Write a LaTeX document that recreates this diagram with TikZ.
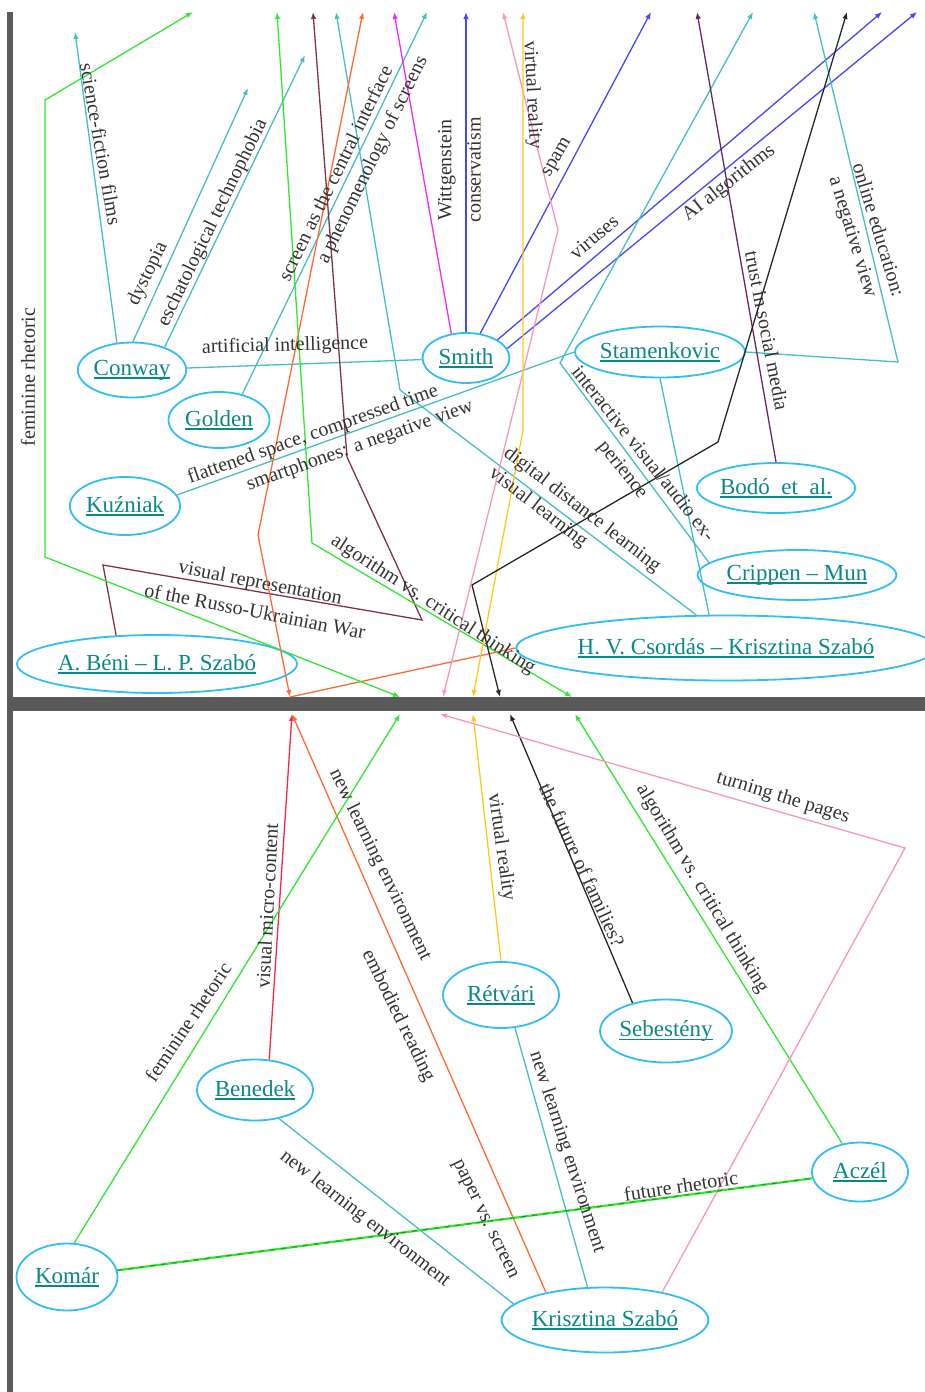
\documentclass[tikz,border=0pt]{standalone}
\usepackage{fontspec}
\setmainfont{Liberation Serif}
\usetikzlibrary{arrows.meta, shapes.geometric}
\definecolor{RingBlue}{RGB}{50,190,240}
\definecolor{NameTeal}{RGB}{10,135,135}
\definecolor{LinkCyan}{RGB}{70,190,195}
\definecolor{LinkGreen}{RGB}{50,230,50}
\definecolor{DarkGreen}{RGB}{20,150,20}
\definecolor{LinkMaroon}{RGB}{125,50,80}
\definecolor{LinkOrange}{RGB}{255,105,50}
\definecolor{LinkMagenta}{RGB}{245,40,245}
\definecolor{LinkBlue}{RGB}{70,70,250}
\definecolor{LinkPink}{RGB}{250,150,190}
\definecolor{LinkYellow}{RGB}{255,200,30}
\definecolor{LinkPurple}{RGB}{100,40,100}
\definecolor{LinkRed}{RGB}{250,40,70}
\definecolor{BarGray}{RGB}{90,90,90}
\newsavebox{\namebox}
\newcommand{\nameul}[1]{\sbox{\namebox}{#1}\rlap{\rule[-3.5pt]{\wd\namebox}{1.5pt}}\usebox{\namebox}}

\begin{document}
\begin{tikzpicture}[x=1pt, y=-1pt, >={Latex[length=7pt,width=5.5pt]},
    person/.style={ellipse, draw=RingBlue, line width=1.8pt, text=NameTeal, font=\fontsize{23}{26}\selectfont, inner sep=0pt},
    lab/.style={font=\fontsize{20}{22}\selectfont, text=black!80, inner sep=0pt},
    link/.style={line width=1.3pt}]
\useasboundingbox (0,0) rectangle (925,1392);
% Page frame
\fill [BarGray] (7,12) rectangle (13,1392);
\fill [BarGray] (7,697) rectangle (925,711);

% Upper page: people
\node [person, minimum width=101pt, minimum height=55pt] (Conway) at (132,370) {\nameul{Conway}};
\node [person, minimum width=101pt, minimum height=56pt] (Golden) at (219,420) {\nameul{Golden}};
\node [person, minimum width=101pt, minimum height=58pt] (Kuzniak) at (125,506) {\nameul{Kuźniak}};
\node [person, minimum width=241pt, minimum height=58pt] (Beni) at (157,664) {\nameul{A. Béni – L. P. Szabó}};
\node [person, minimum width=87pt, minimum height=50pt] (Smith) at (466,358) {\nameul{Smith}};
\node [person, minimum width=160pt, minimum height=51pt] (Stamenkovic) at (660,352) {\nameul{Stamenkovic}};
\node [person, minimum width=132pt, minimum height=50pt] (Bodo) at (776,488) {\nameul{Bodó~~et~~al.}};
\node [person, minimum width=161pt, minimum height=50pt] (Crippen) at (797,575) {\nameul{Crippen – Mun}};
\node [person, minimum width=378pt, minimum height=65pt] (Csordas) at (726,648) {\nameul{H. V. Csordás – Krisztina Szabó}};

% Upper page: loose ends
\coordinate (tSciFi) at (75,32);
\coordinate (tDystopia) at (248,88);
\coordinate (tTechno) at (305,55);
\coordinate (tFemTop) at (193,12);
\coordinate (tAlgTop) at (277,12);
\coordinate (tWar) at (313,12);
\coordinate (tDistance) at (336,12);
\coordinate (tOrange) at (363,12);
\coordinate (tWitt) at (394,12);
\coordinate (tScreen) at (427,12);
\coordinate (tCons) at (466,12);
\coordinate (tPages) at (503,12);
\coordinate (tVR) at (523,12);
\coordinate (tSpam) at (651,12);
\coordinate (tTrust) at (697,12);
\coordinate (tVisual) at (753,12);
\coordinate (tOnline) at (814,12);
\coordinate (tFamilies) at (847,12);
\coordinate (tViruses) at (882,12);
\coordinate (tAI) at (917,12);
\coordinate (bOrange) at (290,697);
\coordinate (bFem) at (400,697);
\coordinate (bPages) at (443,697);
\coordinate (bVR) at (473,697);
\coordinate (bFamilies) at (500,697);
\coordinate (bAlg) at (572,697);

% Upper page: links
\draw [link, LinkCyan, ->] (Conway.119) -- (tSciFi);
\draw [link, LinkCyan, ->] (Conway.88) -- (tDystopia);
\draw [link, LinkCyan, ->] (Conway.35) -- (tTechno);
\draw [link, LinkCyan] (Conway) -- (Smith);
\draw [link, LinkCyan, ->] (Golden.48) -- (tScreen);
\draw [link, LinkCyan] (Kuzniak.12) -- (Stamenkovic.west);
\draw [link, LinkMaroon, ->] (Beni.145) -- (103,565) -- (422,620) -- (347,457) -- (tWar);
\draw [link, LinkMagenta, ->] (Smith.121) -- (tWitt);
\draw [link, LinkBlue, ->] (Smith.north) -- (tCons);
\draw [link, LinkBlue, ->] (Smith.60) -- (tSpam);
\draw [link, LinkBlue, ->] (Smith.30) -- (tViruses);
\draw [link, LinkBlue, ->] (Smith.13) -- (tAI);
\draw [link, LinkCyan, ->] (Stamenkovic.east) -- (898,362) -- (tOnline);
\draw [link, LinkCyan] (Stamenkovic.south) -- (Csordas.117);
\draw [link, LinkCyan, ->] (Csordas.132) -- (400,390) -- (tDistance);
\draw [link, LinkCyan, ->] (Crippen.172) -- (560,363) -- (tVisual);
\draw [link, LinkPurple, ->] (Bodo.north) -- (tTrust);
\draw [link, LinkOrange] (Csordas.west) -- (bOrange);
\draw [link, LinkOrange, <->] (tOrange) -- (258,535) -- (bOrange);
\draw [link, LinkGreen, <->] (tFemTop) -- (45,100) -- (45,557) -- (bFem);
\draw [link, LinkGreen, <->] (tAlgTop) -- (312,543) -- (bAlg);
\draw [link, LinkPink, <->] (tPages) -- (558,230) -- (bPages);
\draw [link, LinkYellow, <->] (tVR) -- (523,430) -- (bVR);
\draw [link, black!85, <->] (tFamilies) -- (718,442) -- (472,585) -- (bFamilies);

% Upper page: link phrases
\node [lab, rotate=-80] (lSciFi) at (101,144) {science-fiction films};
\node [lab, rotate=64] (lDystopia) at (148,274) {dystopia};
\node [lab, rotate=64] (lTechno) at (213,223) {eschatological technophobia};
\node [lab, rotate=64] (lScreen) at (335,173) {screen as the central interface};
\node [lab, rotate=64] (lPhenom) at (373,160) {a phenomenology of screens};
\node [lab, rotate=1.5] (lAI) at (285,346) {artificial intelligence};
\node [lab, rotate=90] (lWitt) at (447,170) {Wittgenstein};
\node [lab, rotate=90] (lCons) at (474,170) {conservatism};
\node [lab, rotate=-87] (lVRTop) at (532,95) {virtual reality};
\node [lab, rotate=60] (lSpam) at (558,158) {spam};
\node [lab, rotate=40] (lViruses) at (594,237) {viruses};
\node [lab, rotate=38] (lAlgo) at (729,183) {AI algorithms};
\node [lab, rotate=-79] (lTrust) at (767,331) {trust in social media};
\node [lab, rotate=-73] (lOnline) at (879,230) {online education:};
\node [lab, rotate=-73] (lNegOnline) at (852,237) {a negative view};
\node [lab, rotate=19.5] (lFlat) at (313,435) {flattened space, compressed time};
\node [lab, rotate=19.5] (lPhones) at (360,446) {smartphones: a negative view};
\node [lab, rotate=-11] (lRep) at (260,584) {visual representation};
\node [lab, rotate=-11] (lWar) at (255,611) {of the Russo-Ukrainian War};
\node [lab, rotate=-33] (lAlgTop) at (433,605) {algorithm vs. critical thinking};
\node [lab, rotate=-51.4] (lInter) at (644,453) {interactive visual/audio ex-};
\node [lab, rotate=-51.4] (lPerience) at (622,470) {perience};
\node [lab, rotate=-37.6] (lDistance) at (582,510) {digital distance learning};
\node [lab, rotate=-37.6] (lVisLearn) at (538,508) {visual learning};
\node [lab, rotate=90] (lFemTop) at (28,377) {feminine rhetoric};

% Lower page: people
\node [person, minimum width=116pt, minimum height=61pt] (Benedek) at (255,1090) {\nameul{Benedek}};
\node [person, minimum width=116pt, minimum height=66pt] (Retvari) at (501,995) {\nameul{Rétvári}};
\node [person, minimum width=115pt, minimum height=63pt] (Sebesteny) at (666,1031) {\nameul{Sebestény}};
\node [person, minimum width=96pt, minimum height=59pt] (Aczel) at (860,1172) {\nameul{Aczél}};
\node [person, minimum width=101pt, minimum height=67pt] (Komar) at (67,1277) {\nameul{Komár}};
\node [person, minimum width=203pt, minimum height=65pt] (KSzabo) at (605,1320) {\nameul{Krisztina Szabó}};

% Lower page: loose ends
\coordinate (uMicro) at (292,714);
\coordinate (uFem) at (400,714);
\coordinate (uPages) at (440,714);
\coordinate (uVR) at (473,714);
\coordinate (uFamilies) at (510,714);
\coordinate (uAlg) at (575,714);

% Lower page: links
\draw [link, LinkRed, ->] (Benedek.65) -- (uMicro);
\draw [link, LinkOrange, ->] (KSzabo.155) -- (uMicro);
\draw [link, LinkGreen, ->] (Komar.78) -- (uFem);
\draw [link, LinkYellow, ->] (Retvari.north) -- (uVR);
\draw [link, black!85, ->] (Sebesteny.140) -- (uFamilies);
\draw [link, LinkGreen, ->] (Aczel.122) -- (uAlg);
\draw [link, LinkPink, ->] (KSzabo.26) -- (905,848) -- (uPages);
\draw [link, LinkCyan] (Benedek.-50) -- (KSzabo.170);
\draw [link, LinkCyan] (Retvari.-67) -- (KSzabo.118);
\draw [link, LinkGreen, line width=2.2pt, postaction={draw, DarkGreen, line width=0.9pt, dash pattern=on 5pt off 6pt}] (Komar) -- (Aczel);

% Lower page: link phrases
\node [lab, rotate=87] (lMicro) at (267,906) {visual micro-content};
\node [lab, rotate=-64] (lNewOrange) at (380,865) {new learning environment};
\node [lab, rotate=-64] (lEmbodied) at (398,1016) {embodied reading};
\node [lab, rotate=-64] (lPaper) at (484,1220) {paper vs. screen};
\node [lab, rotate=56] (lFemLow) at (188,1022) {feminine rhetoric};
\node [lab, rotate=-82] (lVRLow) at (501,847) {virtual reality};
\node [lab, rotate=-65] (lFamilies) at (582,865) {the future of families?};
\node [lab, rotate=-59] (lAlgLow) at (702,889) {algorithm vs. critical thinking};
\node [lab, rotate=-17] (lPages) at (783,798) {turning the pages};
\node [lab, rotate=-38] (lNewBenedek) at (365,1219) {new learning environment};
\node [lab, rotate=-72] (lNewRetvari) at (567,1152) {new learning environment};
\node [lab, rotate=8.6] (lFuture) at (681,1186) {future rhetoric};
\end{tikzpicture}
\end{document}
